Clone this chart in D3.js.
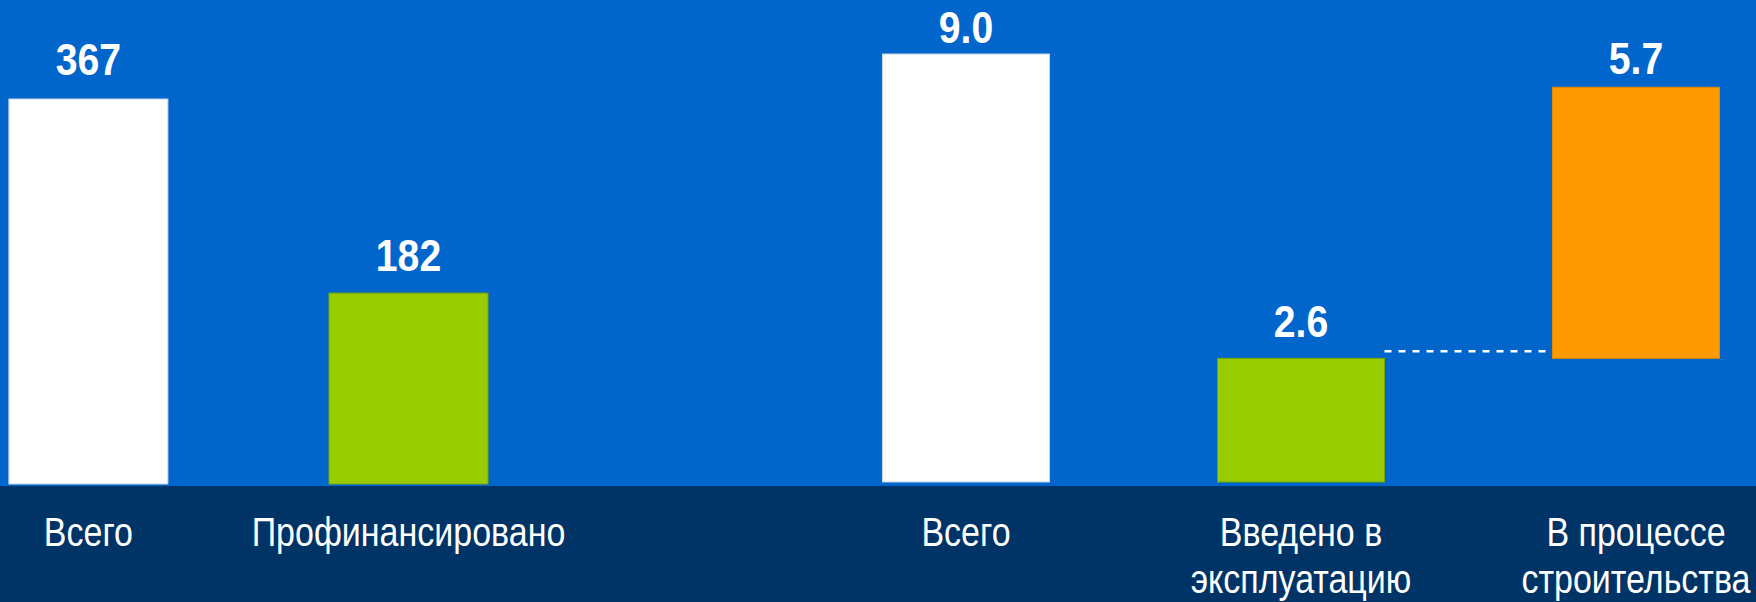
<!DOCTYPE html>
<html>
<head>
<meta charset="utf-8">
<script src="https://cdn.jsdelivr.net/npm/d3@7"></script>
<style>
  html, body { margin: 0; padding: 0; background: #0066cc; }
  svg { display: block; }
  text { font-family: "Liberation Sans", Arial, sans-serif; fill: #fff; }
</style>
</head>
<body>
<div id="chart"></div>
<script>
var W = 1756, H = 602;
var bandTop = 486;

// левая часть: количество
var leftCats = ["Всего", "Профинансировано"];
var leftVals = [367, 182];
var leftLabels = ["367", "182"];
var leftColors = ["#ffffff", "#99cc00"];

// правая часть: waterfall
var rightCats = ["Всего", "Введено в|эксплуатацию", "В процессе|строительства"];
var rightVals = [9.0, 2.6, 5.7];
var rightBase = [0, 0, 2.6];
var rightLabels = ["9.0", "2.6", "5.7"];
var rightColors = ["#ffffff", "#99cc00", "#ff9900"];

var strokeOf = {"#ffffff": "#c8d4e4", "#99cc00": "#7aa300", "#ff9900": "#e08800"};

var svg = d3.select("#chart")
  .append("svg")
    .attr("width", W)
    .attr("height", H);

svg.append("rect")
  .attr("x", 0).attr("y", 0)
  .attr("width", W).attr("height", H)
  .attr("fill", "#0066cc");

svg.append("rect")
  .attr("x", 0).attr("y", bandTop)
  .attr("width", W).attr("height", H - bandTop)
  .attr("fill", "#003366");

var xL = d3.scalePoint().domain(leftCats).range([88.4, 408.5]);
var yL = d3.scaleLinear().domain([0, 367]).range([484, 99]);
var xR = d3.scalePoint().domain(rightCats).range([966, 1636]);
var yR = d3.scaleLinear().domain([0, 9.0]).range([482, 54]);

var numScale = 0.87, catScale = 0.85;

function panel(cats, vals, base, labels, colors, x, y, bw, gaps) {
  var g = svg.append("g");
  var d = cats.map(function(c, i) {
    return {c: c, v: vals[i], b: base[i], t: labels[i], col: colors[i], gap: gaps[i]};
  });

  g.selectAll("rect.bar").data(d).enter().append("rect")
    .attr("class", "bar")
    .attr("x", function(e) { return x(e.c) - bw / 2; })
    .attr("y", function(e) { return y(e.b + e.v); })
    .attr("width", bw)
    .attr("height", function(e) { return y(e.b) - y(e.b + e.v); })
    .attr("fill", function(e) { return e.col; })
    .attr("stroke", function(e) { return strokeOf[e.col]; })
    .attr("stroke-width", 1);

  g.selectAll("text.val").data(d).enter().append("text")
    .attr("class", "val")
    .attr("transform", function(e) {
      return "translate(" + x(e.c) + "," + (y(e.b + e.v) - e.gap) + ") scale(" + numScale + ",1)";
    })
    .attr("text-anchor", "middle")
    .style("font-size", "45px")
    .style("font-weight", "bold")
    .text(function(e) { return e.t; });

  var cl = g.selectAll("text.cat").data(d).enter().append("text")
    .attr("class", "cat")
    .attr("transform", function(e) {
      return "translate(" + x(e.c) + ",546) scale(" + catScale + ",1)";
    })
    .attr("text-anchor", "middle")
    .style("font-size", "40px");
  cl.each(function(e) {
    var lines = e.c.split("|");
    var t = d3.select(this);
    lines.forEach(function(s, k) {
      t.append("tspan").attr("x", 0).attr("dy", k ? 47 : 0).text(s);
    });
  });
  return g;
}

panel(leftCats, leftVals, [0, 0], leftLabels, leftColors, xL, yL, 159, [24, 22]);
panel(rightCats, rightVals, rightBase, rightLabels, rightColors, xR, yR, 167, [11, 21, 13]);

// пунктир от зелёного к оранжевому
svg.append("line")
  .attr("x1", xR(rightCats[1]) + 167 / 2)
  .attr("x2", xR(rightCats[2]) - 167 / 2 - 7)
  .attr("y1", yR(2.6) - 7)
  .attr("y2", yR(2.6) - 7)
  .attr("stroke", "#ffffff")
  .attr("stroke-width", 2.5)
  .attr("stroke-dasharray", "7,7");
</script>
</body>
</html>
